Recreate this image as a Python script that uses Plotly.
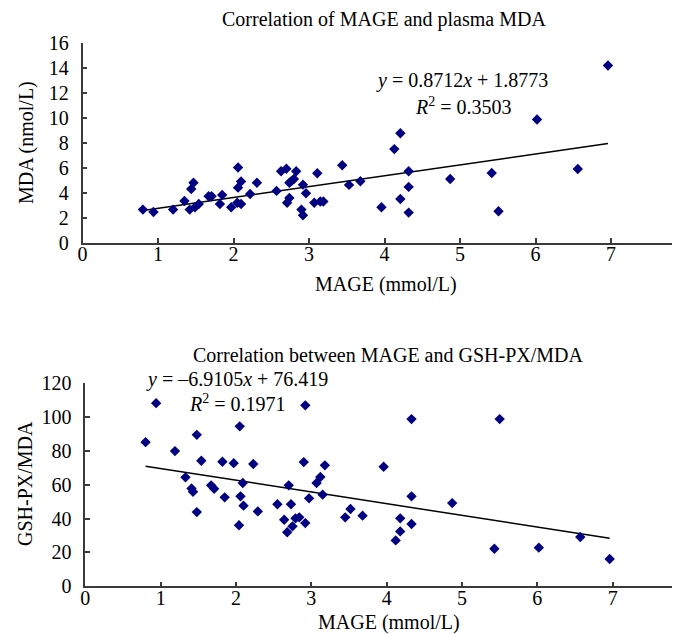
import plotly.graph_objects as go

# ---- Data: MAGE vs plasma MDA ----
mda_x = [0.80, 0.94, 1.20, 1.35, 1.42, 1.44, 1.47, 1.49, 1.54, 1.67, 1.71, 1.82, 1.85, 1.97,
         2.06, 2.06, 2.10, 2.05, 2.10, 2.22, 2.31, 2.57, 2.63, 2.70, 2.74, 2.71, 2.74, 2.77,
         2.80, 2.83, 2.92, 2.96, 2.90, 2.92, 3.07, 3.11, 3.15, 3.19, 3.44, 3.53, 3.68, 3.96,
         4.13, 4.21, 4.32, 4.21, 4.32, 4.32, 4.87, 5.42, 5.51, 6.02, 6.56, 6.96]
mda_y = [2.65, 2.46, 2.65, 3.34, 2.65, 4.30, 4.80, 2.84, 3.10, 3.72, 3.72, 3.10, 3.83, 2.84,
         6.02, 4.41, 4.90, 3.20, 3.10, 3.90, 4.80, 4.15, 5.72, 5.93, 4.80, 3.20, 3.58, 4.95,
         5.10, 5.72, 4.65, 3.96, 2.65, 2.20, 3.20, 5.56, 3.30, 3.30, 6.20, 4.63, 4.92, 2.84,
         7.50, 8.77, 5.72, 3.50, 4.47, 2.41, 5.10, 5.59, 2.52, 9.87, 5.91, 14.20]
mda_slope, mda_intercept = 0.8712, 1.8773

# ---- Data: MAGE vs GSH-PX/MDA ----
gsh_x = [0.80, 0.94, 1.19, 1.33, 1.41, 1.43, 1.48, 1.48, 1.54, 1.67, 1.71, 1.82, 1.85, 1.97,
         2.05, 2.06, 2.09, 2.10, 2.04, 2.23, 2.29, 2.55, 2.64, 2.70, 2.73, 2.68, 2.75, 2.79,
         2.84, 2.92, 2.90, 2.92, 2.97, 3.07, 3.12, 3.18, 3.15, 3.45, 3.52, 3.68, 3.96, 4.12,
         4.18, 4.18, 4.33, 4.33, 4.33, 4.87, 5.43, 5.50, 6.02, 6.57, 6.96]
gsh_y = [85.1, 108.1, 79.8, 64.3, 57.8, 55.8, 89.4, 43.8, 74.1, 59.6, 57.6, 73.5, 52.5, 72.7,
         94.4, 53.1, 61.0, 47.6, 36.0, 72.2, 44.2, 48.4, 39.3, 59.6, 48.4, 31.9, 35.4, 40.1,
         40.7, 37.3, 73.3, 106.8, 51.9, 61.0, 64.5, 71.4, 54.1, 40.7, 45.6, 41.7, 70.6, 27.1,
         32.4, 40.1, 98.7, 53.1, 36.8, 49.1, 22.2, 98.7, 22.8, 29.1, 16.1]
gsh_slope, gsh_intercept = -6.9105, 76.419

x_ticks = [0, 1, 2, 3, 4, 5, 6, 7, 8]
mda_ticks = [0, 2, 4, 6, 8, 10, 12, 14, 16]
gsh_ticks = [0, 20, 40, 60, 80, 100, 120]

titles = ["Correlation of MAGE and plasma MDA", "Correlation between MAGE and GSH-PX/MDA"]
x_title = "MAGE (mmol/L)"
y_titles = ["MDA (nmol/L)", "GSH-PX/MDA"]

FONT = "Liberation Serif, Times New Roman, serif"
W, H = 680, 634
MARK = "#000080"
AX = "#3a3a3a"

fig = go.Figure()

def trend(xs, m, b):
    x0, x1 = min(xs), max(xs)
    return [x0, x1], [m * x0 + b, m * x1 + b]

tx, ty = trend(mda_x, mda_slope, mda_intercept)
fig.add_trace(go.Scatter(x=tx, y=ty, mode="lines", line=dict(color="black", width=1.5),
                         xaxis="x", yaxis="y", hoverinfo="skip"))
fig.add_trace(go.Scatter(x=mda_x, y=mda_y, mode="markers",
                         marker=dict(symbol="diamond", size=8, color=MARK),
                         xaxis="x", yaxis="y"))

tx2, ty2 = trend(gsh_x, gsh_slope, gsh_intercept)
fig.add_trace(go.Scatter(x=tx2, y=ty2, mode="lines", line=dict(color="black", width=1.5),
                         xaxis="x2", yaxis="y2", hoverinfo="skip"))
fig.add_trace(go.Scatter(x=gsh_x, y=gsh_y, mode="markers",
                         marker=dict(symbol="diamond", size=8, color=MARK),
                         xaxis="x2", yaxis="y2"))

def px(v):
    return v / W

def py(v):
    return 1 - v / H

tick_font = dict(family=FONT, size=20, color="black")
common_axis = dict(showgrid=False, zeroline=False, showline=True, linecolor=AX, linewidth=1.5,
                   ticks="inside", ticklen=5, tickcolor=AX, tickwidth=1.5, automargin=False,
                   tickfont=tick_font, fixedrange=True, ticklabeloverflow="allow")

fig.update_layout(
    width=W, height=H, margin=dict(l=0, r=0, t=0, b=0, autoexpand=False),
    paper_bgcolor="white", plot_bgcolor="white", showlegend=False,
    xaxis=dict(common_axis, domain=[px(74.5), px(678.5)], range=[0, 8], tickvals=x_ticks,
               anchor="y", ticklabelstandoff=-7),
    yaxis=dict(common_axis, domain=[py(234.7), py(35)], range=[0, 16], tickvals=mda_ticks,
               anchor="x", ticklabelstandoff=8),
    xaxis2=dict(common_axis, domain=[px(77.3), 1.0], range=[0, 8], tickvals=x_ticks,
                anchor="y2", ticklabelstandoff=-7),
    yaxis2=dict(common_axis, domain=[py(578.3), py(375)], range=[0, 120], tickvals=gsh_ticks,
                anchor="x2", ticklabelstandoff=8),
)

def ann(text, x, y, size=20, angle=0):
    fig.add_annotation(text=text, x=px(x), y=py(y), xref="paper", yref="paper",
                       showarrow=False, xanchor="center", yanchor="middle", textangle=angle,
                       font=dict(family=FONT, size=size, color="black"))

ann(titles[0], 376, 12)
ann(titles[1], 380, 347)
ann(x_title, 378, 277)
ann(x_title, 381, 614)
ann(y_titles[0], 18, 135, angle=-90)
ann(y_titles[1], 17, 476, angle=-90)

ann("<i>y</i> = 0.8712<i>x</i> + 1.8773", 454, 73)
ann("<i>R</i><sup>2</sup> = 0.3503", 456, 98)
ann("<i>y</i> = –6.9105<i>x</i> + 76.419", 229, 371)
ann("<i>R</i><sup>2</sup> = 0.1971", 229, 395)

fig.write_html("out.html")
